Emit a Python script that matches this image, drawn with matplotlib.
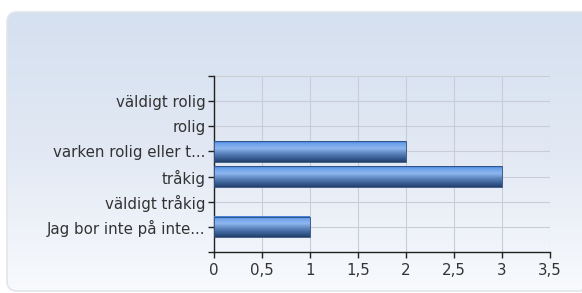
import numpy as np
import matplotlib
matplotlib.use("Agg")
import matplotlib.pyplot as plt
from matplotlib.patches import FancyBboxPatch
from matplotlib.colors import LinearSegmentedColormap

categories = ["väldigt rolig", "rolig", "varken rolig eller t...", "tråkig",
              "väldigt tråkig", "Jag bor inte på inte..."]
values = [0, 0, 2, 3, 0, 1]
xticks = [0, 0.5, 1, 1.5, 2, 2.5, 3, 3.5]
xticklabels = ["0", "0,5", "1", "1,5", "2", "2,5", "3", "3,5"]

W, H = 582, 293
fig = plt.figure(figsize=(W / 100, H / 100), dpi=100)
fig.patch.set_facecolor("white")

# background panel
bg = fig.add_axes([0, 0, 1, 1])
bg.set_xlim(0, W)
bg.set_ylim(H, 0)
bg.axis("off")
panel = FancyBboxPatch((7, 12), 584, 279,
                       boxstyle="round,pad=0,rounding_size=10",
                       facecolor="none", edgecolor="#e2e6ec", lw=1.2)
bg.add_patch(panel)
grad = np.linspace(0, 1, 256).reshape(-1, 1)
bgcmap = LinearSegmentedColormap.from_list("bg", ["#d5e0f0", "#e2e9f4", "#f8fafd"])
im = bg.imshow(grad, extent=(7, 591, 291, 12), aspect="auto", cmap=bgcmap,
               origin="upper")
im.set_clip_path(panel)
bg.set_xlim(0, W)
bg.set_ylim(H, 0)

left, right = 214 / W, 550 / W
top, bottom = 1 - 76 / H, 1 - 252 / H
ax = fig.add_axes([left, bottom, right - left, top - bottom])
ax.patch.set_alpha(0)

y = np.arange(len(categories))
bars = ax.barh(y, values, height=0.82, color="none", edgecolor="none")

barcmap = LinearSegmentedColormap.from_list(
    "bar", [(0, "#3f7fd8"), (0.12, "#6ea2ea"), (0.35, "#8fb6ee"),
            (0.6, "#5a82bb"), (0.85, "#35598e"), (1, "#233f68")])
bgrad = np.linspace(0, 1, 64).reshape(-1, 1)
for b in bars:
    w = b.get_width()
    if w <= 0:
        continue
    y0 = b.get_y()
    h = b.get_height()
    ax.imshow(bgrad, extent=(0, w, y0 + h, y0), aspect="auto", cmap=barcmap,
              origin="upper", zorder=3)
    ax.add_patch(plt.Rectangle((0, y0), w, h, fill=False, edgecolor="#2d4b78",
                               lw=0.6, zorder=4))
ax.set_xlim(0, 3.5)
ax.set_ylim(6, -1)

ax.set_xticks(xticks)
ax.set_xticklabels(xticklabels)
ax.set_yticks(list(range(-1, 7)))
ax.set_yticklabels([""] + categories + [""])

ax.grid(True, color="#c9cdd5", lw=0.8)
ax.set_axisbelow(True)
for s in ["top", "right"]:
    ax.spines[s].set_visible(False)
ax.spines["left"].set_color("#222222")
ax.spines["bottom"].set_color("#222222")
ax.spines["left"].set_linewidth(1.0)
ax.spines["bottom"].set_linewidth(1.0)
ax.tick_params(axis="both", length=4, width=1.0, color="#222222",
               labelcolor="#333333", labelsize=10.8, pad=2)
ax.tick_params(axis="x", pad=4)
for t in ax.get_xticklabels() + ax.get_yticklabels():
    t.set_fontfamily("DejaVu Sans")

fig.savefig("out.png", dpi=100, facecolor="white")
